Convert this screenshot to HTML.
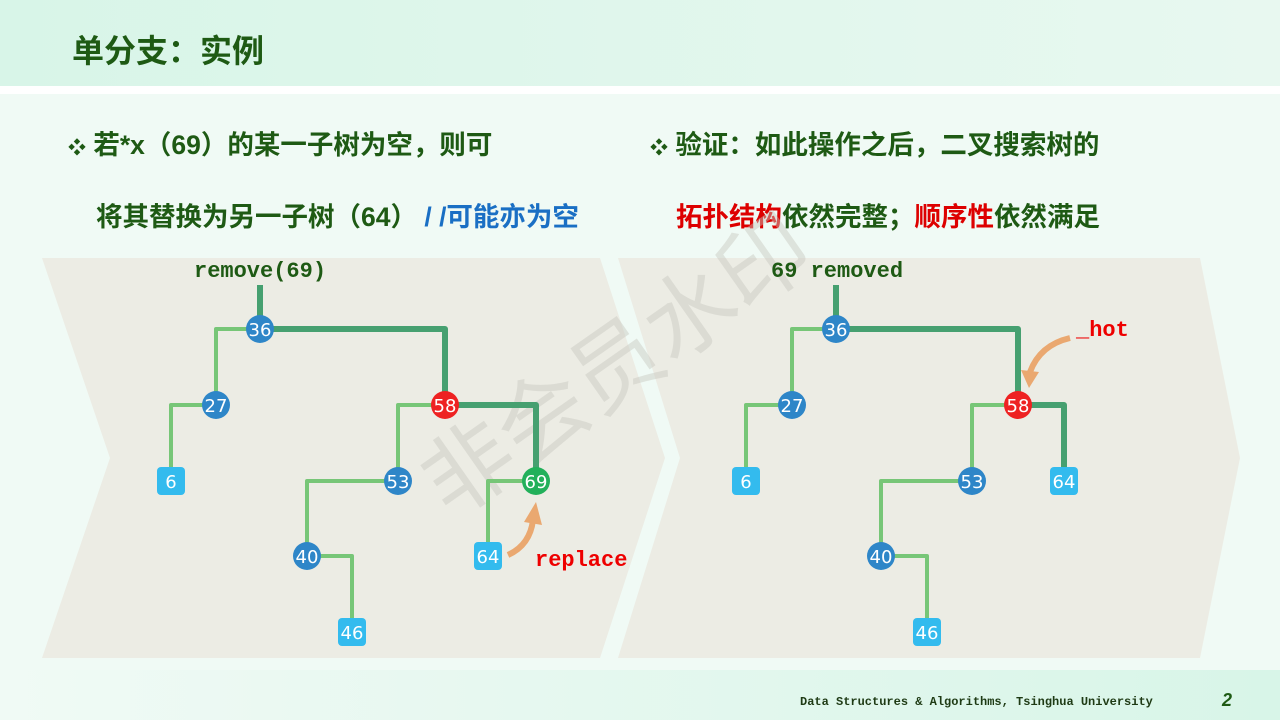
<!DOCTYPE html>
<html><head><meta charset="utf-8"><style>
body{margin:0;width:1280px;height:720px;overflow:hidden;background:#f0faf5;font-family:"Liberation Sans","Noto Sans CJK SC",sans-serif;}
</style></head><body>
<svg width="1280" height="720" xmlns="http://www.w3.org/2000/svg" style="position:absolute;left:0;top:0">
<defs>
<linearGradient id="hd" x1="0" x2="1"><stop offset="0" stop-color="#d8f5e8"/><stop offset="1" stop-color="#e8f8f0"/></linearGradient>
<linearGradient id="ft" x1="0" x2="1"><stop offset="0" stop-color="#f0faf5"/><stop offset="1" stop-color="#d8f5e8"/></linearGradient>
</defs>
<rect x="0" y="0" width="1280" height="86" fill="url(#hd)"/>
<rect x="0" y="86" width="1280" height="8" fill="#fff"/>
<rect x="0" y="670" width="1280" height="50" fill="url(#ft)"/>
<text x="72" y="62" font-size="32" font-weight="bold" fill="#1e5a14" font-family="Liberation Sans,Noto Sans CJK SC,sans-serif">单分支：实例</text>
<g font-size="26.5" font-weight="bold" fill="#1e5a14" font-family="Liberation Sans,Noto Sans CJK SC,sans-serif">
<text x="68" y="154"><tspan font-size="18">❖</tspan> 若*x（69）的某一子树为空，则可</text>
<text x="96" y="226">将其替换为另一子树（64）  <tspan fill="#1a6fc4">/ /可能亦为空</tspan></text>
<text x="650" y="154"><tspan font-size="18">❖</tspan> 验证：如此操作之后，二叉搜索树的</text>
<text x="676" y="226"><tspan fill="#dd0000">拓扑结构</tspan>依然完整；<tspan fill="#dd0000">顺序性</tspan>依然满足</text>
</g>
<polygon points="42,258 600,258 665,458 600,658 42,658 110,458" fill="#ecece4"/>
<polygon points="618,258 1200,258 1240,458 1200,658 618,658 680,458" fill="#ecece4"/>
<text x="0" y="0" font-size="90" fill="#c8c8c0" opacity="0.45" transform="translate(450,520) rotate(-35)" font-family="Noto Sans CJK SC,sans-serif">非会员水印</text>
<g font-family="Liberation Mono,monospace" font-size="22" font-weight="bold">
<text x="194" y="277" fill="#1e5a14">remove(69)</text>
<text x="771" y="277" fill="#1e5a14">69 removed</text>
<text x="535" y="566" fill="#ee0000">replace</text>
<text x="1076" y="336" fill="#ee0000">_hot</text>
</g>
<g fill="none" stroke-linejoin="round">
<path d="M260,329 H216 V405 H171 V481 M445,405 H398 V481 H307 V556 H352 V632 M536,481 H488 V556" stroke="#77c677" stroke-width="4"/>
<path d="M260,285 V329 H445 V405 H536 V481" stroke="#46a070" stroke-width="6"/>
<path d="M836,329 H792 V405 H746 V481 M1018,405 H972 V481 H881 V556 H927 V632" stroke="#77c677" stroke-width="4"/>
<path d="M836,285 V329 H1018 V405 H1064 V481" stroke="#46a070" stroke-width="6"/>
<path d="M508,555 Q530,545 533,520" stroke="#eaa870" stroke-width="6"/>
<path d="M1070,338 Q1040,345 1030,372" stroke="#eaa870" stroke-width="6"/>
</g>
<polygon points="524,522 536,502 542,525" fill="#eaa870"/>
<polygon points="1021,370 1029,388 1039,372" fill="#eaa870"/>
<g font-size="18" fill="#fff" text-anchor="middle" font-family="DejaVu Sans,sans-serif">
<g fill="#2e86c8"><circle cx="260" cy="329" r="14"/><circle cx="216" cy="405" r="14"/><circle cx="398" cy="481" r="14"/><circle cx="307" cy="556" r="14"/>
<circle cx="836" cy="329" r="14"/><circle cx="792" cy="405" r="14"/><circle cx="972" cy="481" r="14"/><circle cx="881" cy="556" r="14"/></g>
<circle cx="445" cy="405" r="14" fill="#ee2222"/><circle cx="1018" cy="405" r="14" fill="#ee2222"/>
<circle cx="536" cy="481" r="14" fill="#22b05a"/>
<g fill="#33bbee"><rect x="157" y="467" width="28" height="28" rx="4"/><rect x="338" y="618" width="28" height="28" rx="4"/><rect x="474" y="542" width="28" height="28" rx="4"/>
<rect x="732" y="467" width="28" height="28" rx="4"/><rect x="913" y="618" width="28" height="28" rx="4"/><rect x="1050" y="467" width="28" height="28" rx="4"/></g>
<text x="260" y="336">36</text><text x="216" y="412">27</text><text x="171" y="488">6</text><text x="445" y="412">58</text><text x="398" y="488">53</text><text x="536" y="488">69</text><text x="307" y="563">40</text><text x="352" y="639">46</text><text x="488" y="563">64</text>
<text x="836" y="336">36</text><text x="792" y="412">27</text><text x="746" y="488">6</text><text x="1018" y="412">58</text><text x="972" y="488">53</text><text x="1064" y="488">64</text><text x="881" y="563">40</text><text x="927" y="639">46</text>
</g>
<text x="800" y="705" font-size="12" font-weight="bold" fill="#1e3a14" font-family="Liberation Mono,monospace">Data Structures &amp; Algorithms, Tsinghua University</text>
<text x="1222" y="706" font-size="18" font-style="italic" font-weight="bold" fill="#1e5a14">2</text>
</svg>
</body></html>
